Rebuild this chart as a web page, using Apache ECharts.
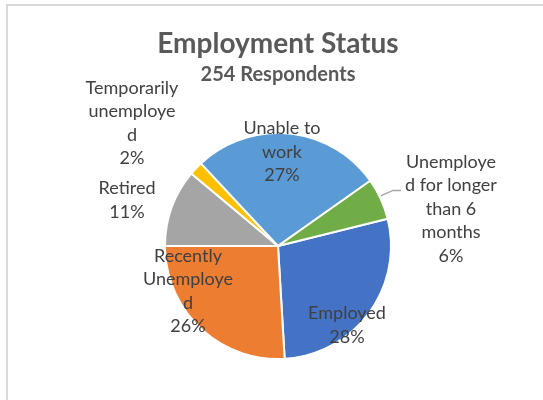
<!DOCTYPE html>
<html>
<head>
<meta charset="utf-8">
<style>
  html, body { margin: 0; padding: 0; background: #fff; }
  #chart { width: 543px; height: 400px; }
</style>
<script src="https://cdn.jsdelivr.net/npm/echarts@6/dist/echarts.min.js"></script>
</head>
<body>
<div id="chart"></div>
<script>
// Survey answers: number of respondents per employment status
const categories = [
  'Employed',
  'Recently Unemployed',
  'Retired',
  'Temporarily unemployed',
  'Unable to work',
  'Unemployed for longer than 6 months'
];
const respondents = [71, 66, 28, 5, 69, 15];
// Wrapped category text as shown in the data labels
const labelNames = [
  'Employed',
  'Recently\nUnemploye\nd',
  'Retired',
  'Temporarily\nunemploye\nd',
  'Unable to\nwork',
  'Unemploye\nd for longer\nthan 6\nmonths'
];
const sliceColors = ['#4472C4', '#ED7D31', '#A5A5A5', '#FFC000', '#5B9BD5', '#70AD47'];

const pieCenter = [278, 246];
const pieRadius = 113;
const pieStartAngle = 14;
// Label centres, relative to the pie centre
const labelOffsets = [
  [69, 79],
  [-90, 45],
  [-151, -46],
  [-146, -123],
  [4, -94],
  [173, -37]
];
const outsideLabel = [false, false, true, true, false, true];
const leaderLineIndex = 5;

const total = respondents.reduce((a, b) => a + b, 0);

// Point on the rim of a slice at its middle angle
function sliceRimPoint(index) {
  let before = 0;
  for (let i = 0; i < index; i++) before += respondents[i];
  const mid = (before + respondents[index] / 2) / total * 360;
  const a = (pieStartAngle - mid) * Math.PI / 180;
  return [pieCenter[0] + pieRadius * Math.cos(a), pieCenter[1] - pieRadius * Math.sin(a)];
}

const chart = echarts.init(document.getElementById('chart'), null, { renderer: 'canvas' });

const font = 'Lato, "Liberation Sans", sans-serif';

chart.setOption({
  backgroundColor: '#fff',
  animation: false,
  title: {
    text: 'Employment Status',
    subtext: '254 Respondents',
    left: 273,
    textAlign: 'center',
    top: 25,
    itemGap: 7,
    textStyle: { fontFamily: font, fontSize: 28, fontWeight: 'bold', color: '#595959' },
    subtextStyle: { fontFamily: font, fontSize: 20, fontWeight: 'bold', color: '#595959' }
  },
  graphic: [{
    type: 'rect',
    shape: { x: 7, y: 5, width: 700, height: 600 },
    style: { fill: 'none', stroke: '#d9d9d9', lineWidth: 2 },
    silent: true
  }],
  series: [{
    type: 'pie',
    center: pieCenter,
    radius: pieRadius,
    startAngle: pieStartAngle,
    clockwise: true,
    percentPrecision: 0,
    itemStyle: { borderColor: '#fff', borderWidth: 2 },
    data: categories.map((name, i) => ({
      name: name,
      value: respondents[i],
      itemStyle: { color: sliceColors[i] },
      label: { position: outsideLabel[i] ? 'outside' : 'inside' },
      labelLine: { show: i === leaderLineIndex }
    })),
    label: {
      show: true,
      formatter: p => labelNames[p.dataIndex] + '\n' + p.percent + '%',
      fontFamily: font,
      fontSize: 18,
      lineHeight: 23.5,
      color: '#404040',
      align: 'center'
    },
    labelLine: {
      show: false,
      lineStyle: { color: '#a6a6a6', width: 1.3 },
      length: 10,
      length2: 10
    },
    labelLayout: function (params) {
      const i = params.dataIndex;
      const off = labelOffsets[i];
      const lx = pieCenter[0] + off[0];
      const ly = pieCenter[1] + off[1];
      const result = {
        x: lx,
        y: ly,
        align: 'center',
        verticalAlign: 'middle',
        hideOverlap: false,
        moveOverlap: false
      };
      if (i === leaderLineIndex) {
        const start = sliceRimPoint(i);
        result.labelLinePoints = [
          [start[0], start[1] - 3],
          [lx - 58, ly - 18.5],
          [lx - 50, ly - 18.5]
        ];
      }
      return result;
    }
  }]
});
</script>
</body>
</html>
